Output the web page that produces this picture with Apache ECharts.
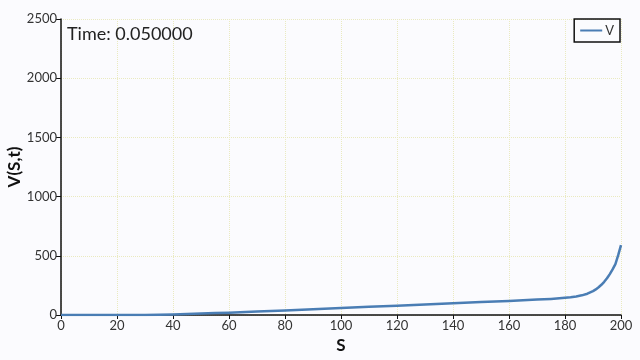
<!DOCTYPE html>
<html><head><meta charset="utf-8">
<script src="https://cdn.jsdelivr.net/npm/echarts@6/dist/echarts.min.js"></script>
<style>html,body{margin:0;padding:0;background:#fbfbfe}#c{width:640px;height:360px}</style>
</head><body><div id="c"></div>
<script>
const sValues = [0,10,20,30,35,40,45,50,55,60,70,80,90,100,110,120,130,140,150,160,170,175,178,180,182,184,186,188,190,191,192,193,194,195,196,197,198,199,200];
const vValues = [0,0,0,0.5,1.5,4,8,12,16,20,29,39,49,59,69,79,89,99,109,119,130,136,141,145,150,157,166,180,202,216,234,255,280,310,345,385,430,505,590];
const xTicks = [0,20,40,60,80,100,120,140,160,180,200];
const yTicks = [0,500,1000,1500,2000,2500];
const seriesName = 'V';
const timeLabel = 'Time: 0.050000';

const chart = echarts.init(document.getElementById('c'));
const font = 'Lato, "DejaVu Sans", sans-serif';
chart.setOption({
  backgroundColor: '#fbfbfe',
  animation: false,
  grid: {left: 61, right: 19, top: 19, bottom: 45, containLabel: false, outerBoundsMode: 'none'},
  title: {text: timeLabel, left: 62, top: 20, textStyle: {fontFamily: font, fontSize: 18, fontWeight: 'normal', color: '#222'}},
  legend: {
    right: 20, top: 19, orient: 'vertical',
    borderColor: '#111', borderWidth: 1.5, padding: [5, 6, 5, 6],
    itemWidth: 22, itemHeight: 10, itemGap: 4,
    textStyle: {fontFamily: font, fontSize: 13, color: '#333', padding: [0,0,0,-2]},
    data: [{name: seriesName, icon: 'path://M0,4 L22,4 L22,6 L0,6 Z'}]
  },
  xAxis: {
    type: 'value', min: xTicks[0], max: xTicks[xTicks.length-1], interval: 20,
    name: 'S', nameLocation: 'middle', nameGap: 20,
    nameTextStyle: {fontFamily: font, fontSize: 17, fontWeight: 'bold', color: '#111'},
    axisLine: {show: true, lineStyle: {color: '#111', width: 1.5}},
    axisTick: {show: true, length: 4, lineStyle: {color: '#111'}},
    axisLabel: {fontFamily: font, fontSize: 13, color: '#333', margin: 4, formatter: v => String(v)},
    splitLine: {show: true, lineStyle: {color: '#eaeac0', type: 'dotted', width: 1}}
  },
  yAxis: {
    type: 'value', min: yTicks[0], max: yTicks[yTicks.length-1], interval: 500,
    name: 'V(S,t)', nameLocation: 'middle', nameGap: 38, nameMoveOverlap: false,
    nameTextStyle: {fontFamily: font, fontSize: 17, fontWeight: 'bold', color: '#111'},
    axisLine: {show: true, lineStyle: {color: '#111', width: 1.5}},
    axisTick: {show: true, length: 5, lineStyle: {color: '#111'}},
    axisLabel: {fontFamily: font, fontSize: 13, color: '#333', margin: 4, formatter: v => String(v)},
    splitLine: {show: true, lineStyle: {color: '#eaeac0', type: 'dotted', width: 1}}
  },
  series: [{
    name: seriesName, type: 'line', smooth: false, showSymbol: false,
    lineStyle: {color: '#4a7db4', width: 2.5, join: 'round'},
    itemStyle: {color: '#4a7db4'},
    data: sValues.map((s, i) => [s, vValues[i]])
  }]
});
</script></body></html>
